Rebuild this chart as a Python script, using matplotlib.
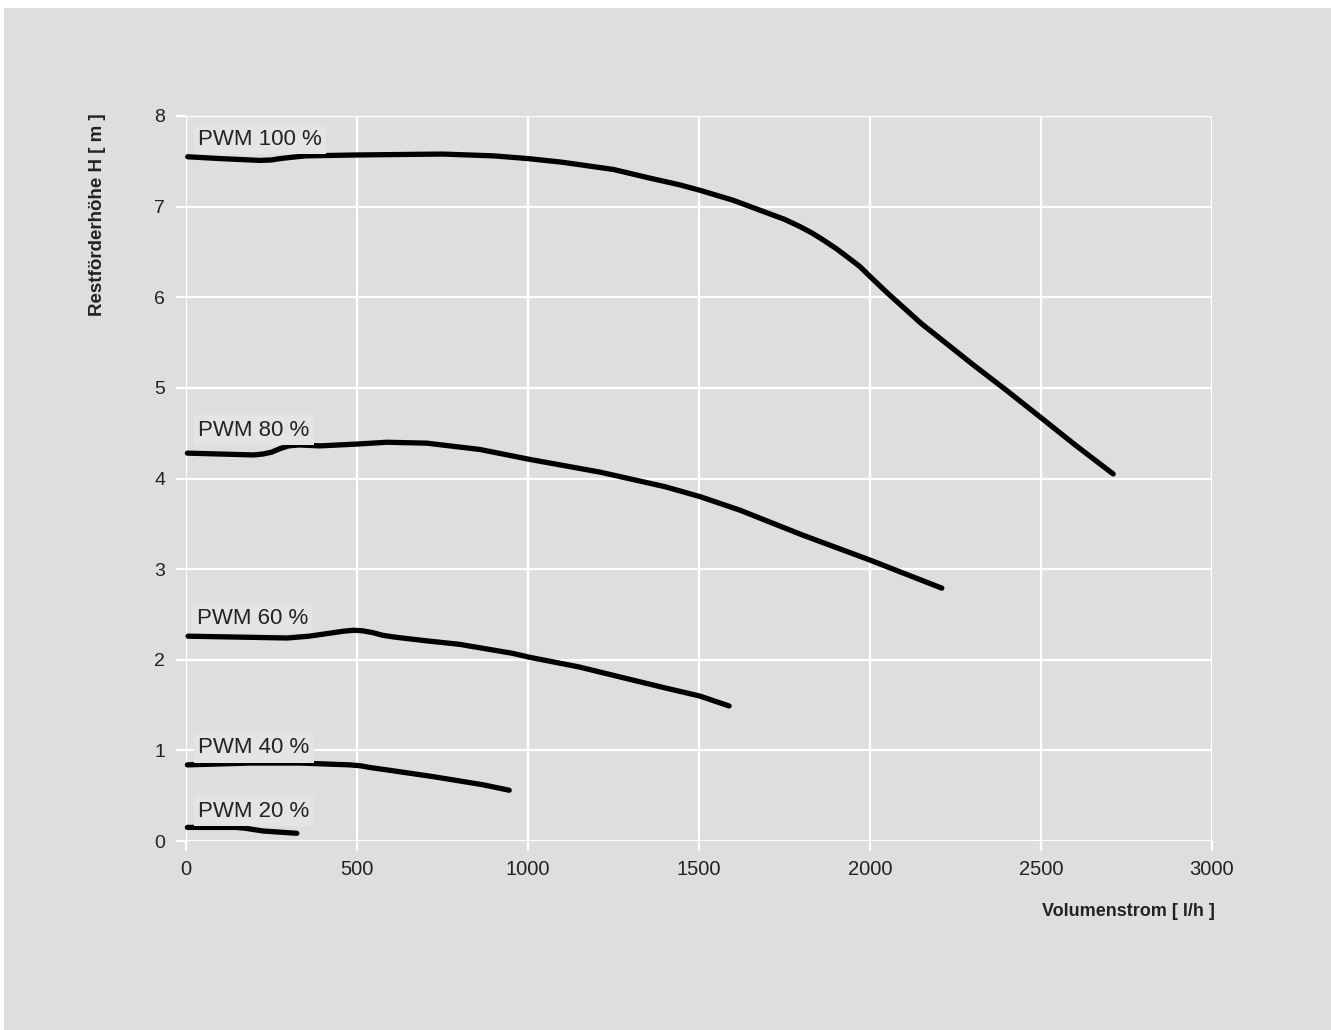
import matplotlib
matplotlib.use("Agg")
import matplotlib.pyplot as plt
from matplotlib.patches import Rectangle

plt.rcParams['font.family'] = ['Liberation Sans', 'DejaVu Sans']

# Kennlinien (Volumenstrom l/h, Restförderhöhe m)
q_100 = [5, 100, 216, 250, 275, 310, 350, 500, 750, 900, 1000, 1100, 1250, 1350, 1444, 1503, 1600, 1700,
         1750, 1795, 1830, 1860, 1900, 1932, 1970, 2000, 2050, 2100, 2150, 2200, 2250, 2300, 2400, 2497,
         2600, 2711]
h_100 = [7.55, 7.53, 7.51, 7.515, 7.53, 7.545, 7.56, 7.57, 7.58, 7.56, 7.53, 7.49, 7.41, 7.32, 7.24, 7.18,
         7.07, 6.93, 6.86, 6.78, 6.71, 6.64, 6.54, 6.45, 6.34, 6.23, 6.05, 5.88, 5.71, 5.56, 5.41, 5.26,
         4.97, 4.68, 4.37, 4.05]

q_80 = [4, 197, 225, 250, 275, 300, 330, 392, 500, 587, 704, 860, 1006, 1211, 1400, 1503, 1620, 1800,
        2000, 2210]
h_80 = [4.28, 4.26, 4.27, 4.29, 4.33, 4.36, 4.37, 4.36, 4.38, 4.40, 4.39, 4.32, 4.21, 4.07, 3.91, 3.80,
        3.65, 3.38, 3.10, 2.79]

q_60 = [6, 296, 360, 415, 460, 490, 515, 545, 575, 610, 700, 800, 956, 1001, 1150, 1280, 1400, 1502, 1588]
h_60 = [2.26, 2.24, 2.26, 2.29, 2.315, 2.325, 2.32, 2.30, 2.27, 2.25, 2.21, 2.17, 2.07, 2.03, 1.92,
        1.80, 1.69, 1.60, 1.49]

q_40 = [4, 187, 333, 479, 510, 540, 596, 723, 869, 945]
h_40 = [0.84, 0.86, 0.86, 0.84, 0.83, 0.81, 0.78, 0.71, 0.62, 0.56]

q_20 = [4, 148, 175, 200, 226, 324]
h_20 = [0.15, 0.15, 0.14, 0.125, 0.11, 0.085]

kurven = [(q_100, h_100), (q_80, h_80), (q_60, h_60), (q_40, h_40), (q_20, h_20)]
beschriftungen = ['PWM 100 %', 'PWM 80 %', 'PWM 60 %', 'PWM 40 %', 'PWM 20 %']
label_x = [35, 35, 31, 35, 35]
label_y = [7.68, 4.47, 2.40, 0.97, 0.27]

bg = '#dedede'
textfarbe = '#222222'

fig = plt.figure(figsize=(13.31, 10.30), dpi=100)
fig.patch.set_facecolor('white')
fig.patches.append(Rectangle((4 / 1331, 0), 1, 1 - 8 / 1030, transform=fig.transFigure,
                             facecolor=bg, edgecolor='none', zorder=-10))

ax = fig.add_axes([186 / 1331, 189 / 1030, 1026 / 1331, 725 / 1030])
ax.set_facecolor(bg)
for s in ax.spines.values():
    s.set_visible(False)

ax.set_xlim(0, 3000)
ax.set_ylim(0, 8)
ax.set_xticks([0, 500, 1000, 1500, 2000, 2500, 3000])
ax.set_yticks(range(0, 9))
ax.grid(True, color='white', linewidth=1.6)
ax.set_axisbelow(True)
ax.tick_params(axis='both', color='white', width=1.6, length=7, labelcolor=textfarbe)
ax.tick_params(axis='x', labelsize=14.5, pad=7)
ax.tick_params(axis='y', labelsize=14, pad=8)

for (q, h), txt, lx, ly in zip(kurven, beschriftungen, label_x, label_y):
    ax.plot(q, h, color='black', linewidth=3.8, solid_capstyle='round', solid_joinstyle='round',
            zorder=3, clip_on=False)
    t = ax.text(lx, ly, txt, fontsize=16, color=textfarbe, va='baseline', ha='left', zorder=4)
    t.set_bbox(dict(boxstyle='square,pad=0.2', facecolor='#e4e4e4', edgecolor='none'))

fig.text(1215 / 1331, 1 - 911 / 1030, 'Volumenstrom [ l/h ]', fontsize=13, fontweight='bold',
         color=textfarbe, ha='right', va='center')
fig.text(98 / 1331, 1 - 215 / 1030, 'Restförderhöhe H [ m ]', fontsize=13.5, fontweight='bold',
         color=textfarbe, ha='center', va='center', rotation=90)

fig.savefig('out.png', dpi=100, facecolor=fig.get_facecolor())
